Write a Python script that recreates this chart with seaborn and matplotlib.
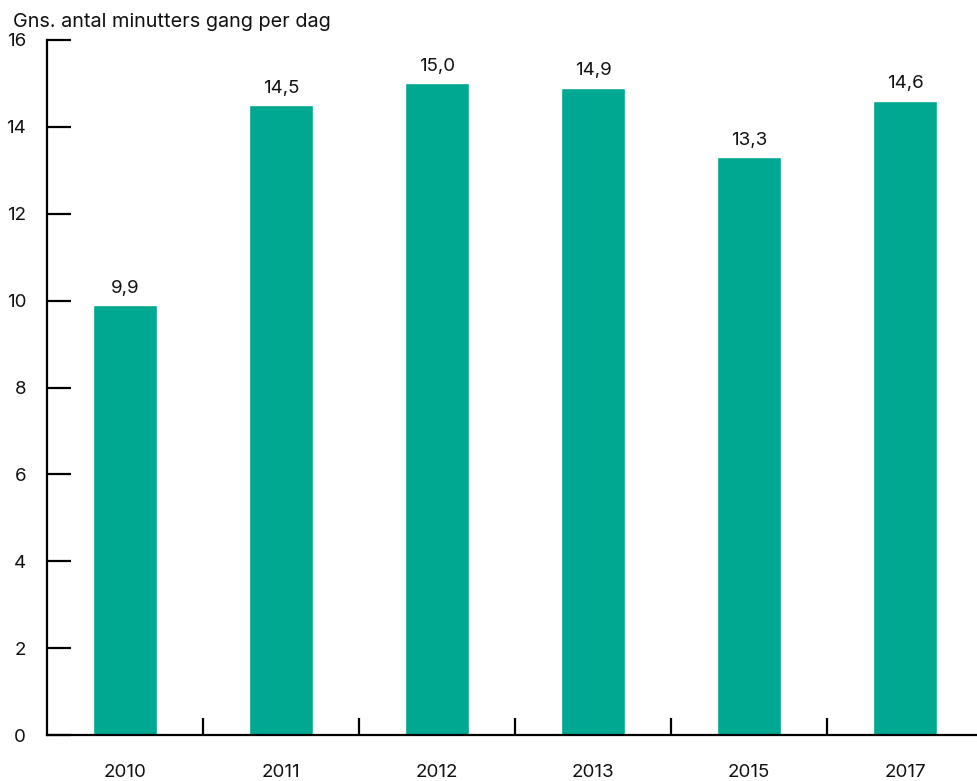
import matplotlib
matplotlib.use("Agg")
import matplotlib.pyplot as plt
import seaborn as sns
import pandas as pd
import numpy as np

years = ["2010", "2011", "2012", "2013", "2015", "2017"]
values = [9.9, 14.5, 15.0, 14.9, 13.3, 14.6]
value_labels = ["9,9", "14,5", "15,0", "14,9", "13,3", "14,6"]
y_label = "Gns. antal minutters gang per dag"

sns.set_theme(style="white")
plt.rcParams["font.family"] = ["Inter", "DejaVu Sans"]

df = pd.DataFrame({"year": years, "value": values})

W, H = 978, 781
fig = plt.figure(figsize=(W / 100, H / 100), dpi=100)
ax = fig.add_axes([47 / W, (H - 735) / H, (983 - 47) / W, (735 - 40) / H])

sns.barplot(data=df, x="year", y="value", color="#00A891", width=0.405,
            saturation=1, ax=ax)

ax.set_xlim(-0.5, 5.5)
ax.set_ylim(0, 16)
ax.set_yticks(np.arange(0, 17, 2))
ax.set_xlabel("")
ax.set_ylabel("")

for s in ["top", "right"]:
    ax.spines[s].set_visible(False)
for s in ["left", "bottom"]:
    ax.spines[s].set_color("black")
    ax.spines[s].set_linewidth(1.6)

ax.tick_params(axis="y", direction="in", length=17, width=1.6, color="black",
               labelsize=13.5, pad=15, left=True)
ax.tick_params(axis="x", which="major", length=0, labelsize=13.5, pad=21)
ax.set_xticks(np.arange(0.5, 5.0, 1.0), minor=True)
ax.tick_params(axis="x", which="minor", direction="in", length=12, width=1.6,
               color="black", bottom=True)
for lab in ax.get_yticklabels() + ax.get_xticklabels():
    lab.set_color("#111111")

for i, (v, t) in enumerate(zip(values, value_labels)):
    ax.annotate(t, (i, v), xytext=(0, 6), textcoords="offset points",
                ha="center", va="bottom", fontsize=13.5, color="#111111")

fig.text(13 / W, (H - 22) / H, y_label, fontsize=14.3, color="#111111",
         ha="left", va="center")

fig.savefig("out.png", dpi=100)
